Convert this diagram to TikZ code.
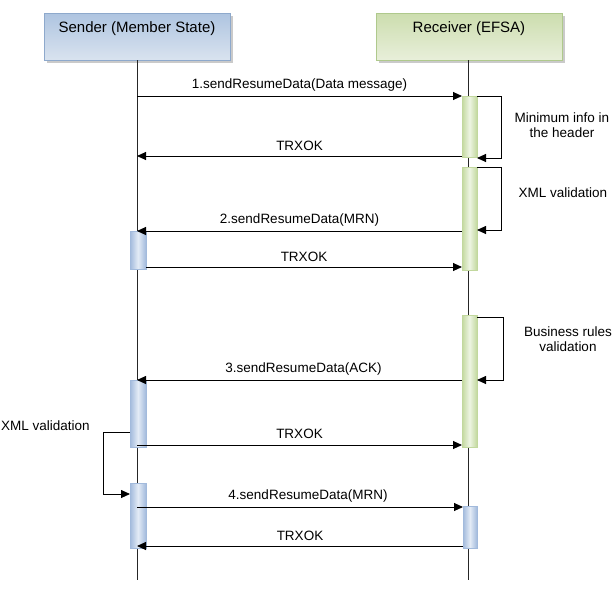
\documentclass[tikz,border=0pt]{standalone}
\usepackage{fontspec}
\setmainfont{Liberation Sans}
\usetikzlibrary{arrows.meta,shadows}
\definecolor{bluetop}{HTML}{AEC4E0}
\definecolor{bluebot}{HTML}{D9E3EF}
\definecolor{blueline}{HTML}{8EA9CC}
\definecolor{greentop}{HTML}{CCDDAE}
\definecolor{greenbot}{HTML}{E8EFDA}
\definecolor{greenline}{HTML}{AFC98C}
\definecolor{blueact}{HTML}{A2BADC}
\definecolor{blueactm}{HTML}{E3EBF6}
\definecolor{greenact}{HTML}{C2D89E}
\definecolor{greenactm}{HTML}{EEF5E3}
\begin{document}
\begin{tikzpicture}[x=1pt,y=-1pt,
  head/.style={minimum width=186pt,minimum height=47pt,inner sep=0pt,
    drop shadow={shadow xshift=2.5pt,shadow yshift=-2.5pt,fill=black!35,opacity=0.6}},
  sendhead/.style={head,draw=blueline,top color=bluetop,bottom color=bluebot},
  recvhead/.style={head,draw=greenline,top color=greentop,bottom color=greenbot},
  act/.style={minimum width=15pt,inner sep=0pt,line width=0.4pt,
    drop shadow={shadow xshift=1pt,shadow yshift=-1pt,fill=black!25,opacity=0.5}},
  bluebar/.style={act,draw=blueact,left color=blueact,right color=blueact,middle color=blueactm},
  greenbar/.style={act,draw=greenact,left color=greenact,right color=greenact,middle color=greenactm},
  life/.style={line width=0.6pt,black!85},
  msg/.style={line width=0.9pt,-{Triangle[length=9pt,width=8pt]}},
  lbl/.style={font=\fontsize{13.5}{15}\selectfont,inner sep=0pt},
  htext/.style={font=\fontsize{15}{17}\selectfont,inner sep=0pt},
  note/.style={lbl,align=center}
]
\useasboundingbox (0,0) rectangle (616,592);

% headers
\node[sendhead] (S) at (137.5,36.5) {};
\node[htext] (St) at (137,29) {Sender (Member State)};
\node[recvhead] (R) at (469,36.5) {};
\node[htext] (Rt) at (469,29) {Receiver (EFSA)};

% lifelines
\coordinate (Send) at (137,580);
\coordinate (Rend) at (468,580);
\draw[life] (137,60) coordinate (Stop) -- (Send);
\draw[life] (468,60) coordinate (Rtop) -- (Rend);

% activations
\node[greenbar,minimum height=61pt] (g1) at (469.5,126.5) {};
\node[greenbar,minimum height=103pt] (g2) at (469.5,218.5) {};
\node[bluebar,minimum width=16pt,minimum height=38pt] (b1) at (138,250) {};
\node[greenbar,minimum height=132pt] (g3) at (469.5,381) {};
\node[bluebar,minimum width=16pt,minimum height=67pt] (b2) at (138,413.5) {};
\node[bluebar,minimum width=16pt,minimum height=65pt] (b3) at (138,515.5) {};
\node[bluebar,minimum width=14pt,minimum height=42pt] (b4) at (470,527) {};

% message end points
\coordinate (s1) at (137,96);   \coordinate (r1) at (462,96);
\coordinate (r2) at (462,156);  \coordinate (s2) at (137,156);
\coordinate (r3) at (462,231);  \coordinate (s3) at (137,231);
\coordinate (s4) at (146,267);  \coordinate (r4) at (462,267);
\coordinate (r5) at (462,380);  \coordinate (s5) at (137,380);
\coordinate (s6) at (137,445);  \coordinate (r6) at (462,445);
\coordinate (s7) at (137,507);  \coordinate (r7) at (463,507);
\coordinate (r8) at (463,546);  \coordinate (s8) at (137,546);

\draw[msg] (s1) -- node[lbl,above=4pt] {1.sendResumeData(Data message)} (r1);
\draw[msg] (r2) -- node[lbl,above=4.5pt] {TRXOK} (s2);
\draw[msg] (r3) -- node[lbl,above=4pt] {2.sendResumeData(MRN)} (s3);
\draw[msg] (s4) -- node[lbl,above=4.5pt] {TRXOK} (r4);
\draw[msg] (r5) -- node[lbl,above=4pt,xshift=4pt] {3.sendResumeData(ACK)} (s5);
\draw[msg] (s6) -- node[lbl,above=6pt] {TRXOK} (r6);
\draw[msg] (s7) -- node[lbl,above=4pt,xshift=8pt] {4.sendResumeData(MRN)} (r7);
\draw[msg] (r8) -- node[lbl,above=4.5pt] {TRXOK} (s8);

% self loops
\coordinate (l1a) at (477,96);  \coordinate (l1b) at (477,158);
\draw[msg] (l1a) -- (501,96) -- (501,158) -- (l1b);
\coordinate (l2a) at (477,167); \coordinate (l2b) at (477,230);
\draw[msg] (l2a) -- (501,167) -- (501,230) -- (l2b);
\coordinate (l3a) at (477,317); \coordinate (l3b) at (477,380);
\draw[msg] (l3a) -- (503,317) -- (503,380) -- (l3b);
\coordinate (l4a) at (130,432); \coordinate (l4b) at (130,494);
\draw[msg] (l4a) -- (103,432) -- (103,494) -- (l4b);

% notes
\node[note] (n1) at (562,125) {Minimum info in\\the header};
\node[note] (n2) at (563,193) {XML validation};
\node[note] (n3) at (568,339) {Business rules\\validation};
\node[note,anchor=west] (n4) at (1,426) {XML validation};
\end{tikzpicture}
\end{document}
